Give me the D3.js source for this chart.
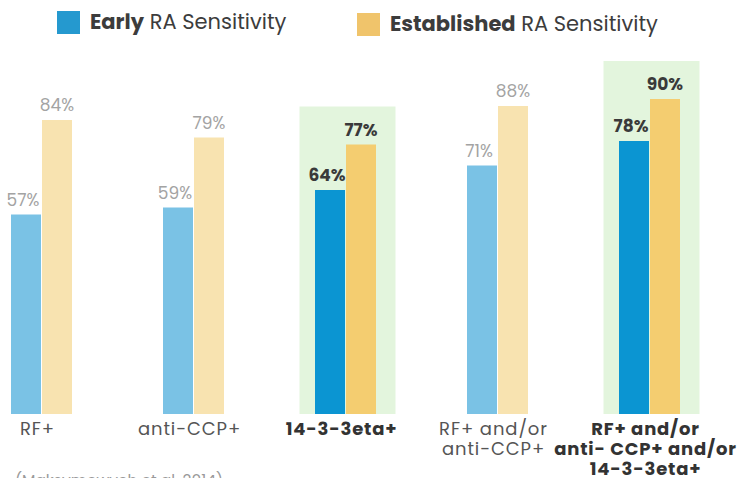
<!DOCTYPE html>
<html lang="en">
<head>
<meta charset="utf-8">
<script src="https://cdn.jsdelivr.net/npm/d3@7"></script>
<style>
  body { margin: 0; background: #fff; }
  svg { font-family: Poppins, "Open Sans", sans-serif; }
</style>
</head>
<body>
<svg width="747" height="478"></svg>
<script>
// chart data
var categories = ["RF+", "anti-CCP+", "14-3-3eta+", "RF+ and/or anti-CCP+", "RF+ and/or anti- CCP+ and/or 14-3-3eta+"];
var labelLines = [["RF+"], ["anti-CCP+"], ["14-3-3eta+"], ["RF+ and/or", "anti-CCP+"], ["RF+ and/or", "anti- CCP+ and/or", "14-3-3eta+"]];
var series = ["Early", "Established"];
var earlyValues = [57, 59, 64, 71, 78];
var establishedValues = [84, 79, 77, 88, 90];
var highlighted = [false, false, true, false, true];
var source = "(Maksymowych et al. 2014)";

var svg = d3.select("svg");

var x = d3.scaleBand().domain(categories).range([-34.5, 725.5]);
var x1 = d3.scaleBand().domain(series).range([-30.5, 30.5]).paddingInner(2 - 61 / 31);
var y = d3.scaleLinear().domain([0, 100]).range([414, 64]);

var colours = {
  Early: { on: "#0b95d2", off: "#7ac2e5" },
  Established: { on: "#f4cd70", off: "#f8e3b0" }
};

var rows = categories.map(function(c, i) {
  return { cat: c, i: i, hl: highlighted[i], values: [
    { s: "Early", v: earlyValues[i] },
    { s: "Established", v: establishedValues[i] }
  ]};
});

function boxTop(d) { return y(d3.max(d.values, function(v) { return v.v; })) - 38; }

// green highlight boxes
svg.selectAll(".hl")
  .data(rows.filter(function(d) { return d.hl; }))
  .enter().append("rect")
    .attr("class", "hl")
    .attr("x", function(d) { return x(d.cat) + x.bandwidth() / 2 - 46; })
    .attr("width", 96)
    .attr("y", boxTop)
    .attr("height", function(d) { return y(0) - boxTop(d); })
    .attr("fill", "#e3f5dd");

var group = svg.selectAll(".grp")
  .data(rows)
  .enter().append("g")
    .attr("class", "grp")
    .attr("transform", function(d) { return "translate(" + (x(d.cat) + x.bandwidth() / 2) + ",0)"; });

group.selectAll("rect")
  .data(function(d) { return d.values.map(function(v) { return { s: v.s, v: v.v, hl: d.hl }; }); })
  .enter().append("rect")
    .attr("x", function(d) { return x1(d.s); })
    .attr("width", x1.bandwidth())
    .attr("y", function(d) { return y(d.v); })
    .attr("height", function(d) { return y(0) - y(d.v); })
    .attr("fill", function(d) { return d.hl ? colours[d.s].on : colours[d.s].off; });

group.selectAll(".val")
  .data(function(d) { return d.values.map(function(v) { return { s: v.s, v: v.v, hl: d.hl }; }); })
  .enter().append("text")
    .attr("class", "val")
    .attr("x", function(d) { return x1(d.s) + x1.bandwidth() / 2 + (d.s == "Early" ? -3 : 0); })
    .attr("y", function(d) { return y(d.v) - 9; })
    .attr("text-anchor", "middle")
    .attr("font-size", 17)
    .attr("font-weight", function(d) { return d.hl ? 700 : 400; })
    .attr("fill", function(d) { return d.hl ? "#3a3a3a" : "#a3a3a3"; })
    .text(function(d) { return d.v + "%"; });

// category labels
group.append("text")
  .attr("text-anchor", "middle")
  .attr("font-size", 18)
  .attr("letter-spacing", function(d) { return d.hl ? 0.8 : 0.9; })
  .attr("font-weight", function(d) { return d.hl ? 700 : 400; })
  .attr("fill", function(d) { return d.hl ? "#333" : "#555"; })
  .selectAll("tspan")
  .data(function(d) { return labelLines[d.i]; })
  .enter().append("tspan")
    .attr("x", -4)
    .attr("y", function(d, i) { return 435 + i * 20; })
    .text(function(d) { return d; });

// legend
var legend = svg.selectAll(".leg")
  .data(series)
  .enter().append("g")
    .attr("class", "leg")
    .attr("transform", function(d, i) { return "translate(" + (57 + i * 300) + "," + (11 + i * 2) + ")"; });

legend.append("rect")
  .attr("width", 23).attr("height", 23)
  .attr("fill", function(d) { return d == "Early" ? "#2599cf" : "#f0c46b"; });

var lt = legend.append("text")
  .attr("x", 33).attr("y", 18)
  .attr("font-size", 21)
  .attr("fill", "#3c3c3c");
lt.append("tspan").attr("font-weight", 700).text(function(d) { return d; });
lt.append("tspan").text(" RA Sensitivity");

svg.append("text")
  .attr("x", 15).attr("y", 486)
  .attr("font-size", 15.5)
  .attr("fill", "#9a9a9a")
  .text(source);
</script>
</body>
</html>
